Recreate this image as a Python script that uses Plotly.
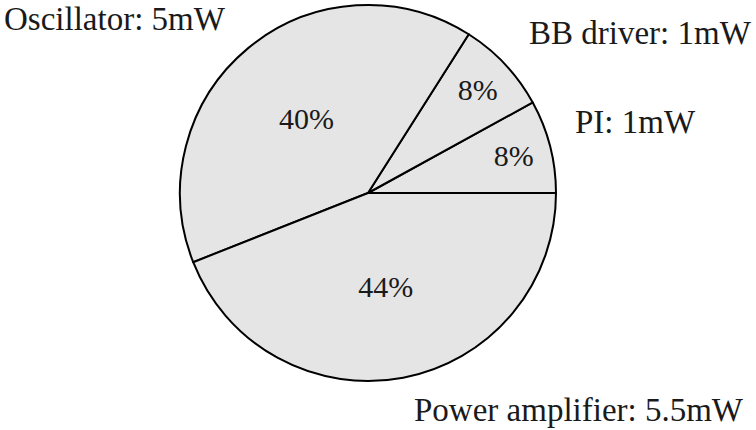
import plotly.graph_objects as go

labels = ["PI", "BB driver", "Oscillator", "Power amplifier"]
power_mw = [1, 1, 5, 5.5]
label_text = ["PI: 1mW", "BB driver: 1mW", "Oscillator: 5mW", "Power amplifier: 5.5mW"]

W, H = 756, 430
FONT = "Liberation Serif"
first_frac = power_mw[0] / sum(power_mw)

fig = go.Figure(go.Pie(
    labels=labels,
    values=power_mw,
    sort=False,
    direction="counterclockwise",
    rotation=90 - 360 * first_frac,
    marker=dict(colors=["#e5e5e5"] * 4, line=dict(color="black", width=2)),
    texttemplate="%{percent:.0%}",
    textposition="inside",
    insidetextorientation="horizontal",
    textfont=dict(family=FONT, size=30, color="#1a1a1a"),
    domain=dict(x=[180 / W, 556 / W], y=[(H - 381) / H, (H - 5) / H]),
    showlegend=False,
    hoverinfo="skip",
))

# outer labels
pos = [
    (573, 122, "left"),
    (527, 33, "left"),
    (2, 19, "left"),
    (746, 410, "right"),
]
for (x, y, anchor), t in zip(pos, label_text):
    fig.add_annotation(x=x / W, y=1 - y / H, xref="paper", yref="paper",
                       text=t, showarrow=False, xanchor=anchor, yanchor="middle",
                       font=dict(family=FONT, size=33, color="#1a1a1a"))

fig.update_layout(width=W, height=H, margin=dict(l=0, r=0, t=0, b=0),
                  paper_bgcolor="white", plot_bgcolor="white")
fig.write_html("out.html", config={"displayModeBar": False},
               post_script="document.body.style.margin='0';document.body.style.overflow='hidden';")
